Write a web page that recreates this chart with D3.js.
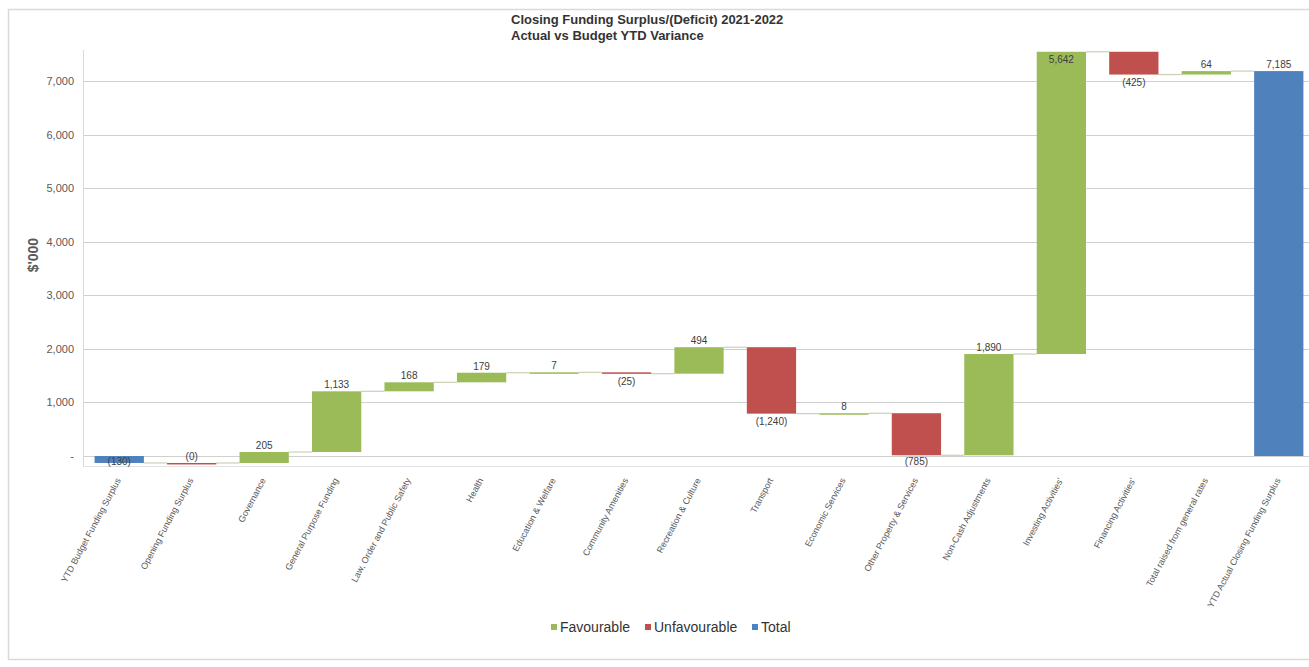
<!DOCTYPE html>
<html>
<head>
<meta charset="utf-8">
<script src="https://cdn.jsdelivr.net/npm/d3@7"></script>
<style>
  body { margin: 0; background: #fff; }
  text { font-family: "Liberation Sans", Arial, sans-serif; }
</style>
</head>
<body>
<svg id="chart"></svg>
<script>
// data
var categories = ["YTD Budget Funding Surplus", "Opening Funding Surplus", "Governance",
  "General Purpose Funding", "Law, Order and Public Safety", "Health", "Education & Welfare",
  "Community Amenities", "Recreation & Culture", "Transport", "Economic Services",
  "Other Property & Services", "Non-Cash Adjustments", "Investing Activities'",
  "Financing Activities'", "Total raised from general rates", "YTD Actual Closing Funding Surplus"];
var values = [-130, -0.4, 205, 1133, 168, 179, 7, -25, 494, -1240, 8, -785, 1890, 5642, -425, 64, 7185];
var isTotal = [true, false, false, false, false, false, false, false, false, false, false, false, false, false, false, false, true];
var yTicks = [0, 1000, 2000, 3000, 4000, 5000, 6000, 7000];
var legendNames = ["Favourable", "Unfavourable", "Total"];

var W = 1309, H = 667;
var GREEN = "#9bbb59", RED = "#c0504d", BLUE = "#4f81bd";
var TextColor = "#404040";
var plotLeft = 83, plotRight = 1315, plotTop = 50, plotBottom = 466;

var svg = d3.select("#chart").attr("width", W).attr("height", H);

// outer chart border
svg.append("rect")
  .attr("x", 8.5).attr("y", 9.5).attr("width", W).attr("height", 650)
  .attr("fill", "none").attr("stroke", "#d9d9d9").attr("stroke-width", 1.5);

// scales
var x = d3.scaleBand().domain(categories).range([plotLeft, plotRight])
  .paddingInner(0.32).paddingOuter(0.16);
var y = d3.scaleLinear().domain([0, 7000]).range([456, 81]);

// build waterfall steps
var run = 0;
var steps = categories.map(function(c, i) {
  var v = values[i], s, e;
  if (isTotal[i]) { s = 0; e = v; run = v; }
  else { s = run; e = run + v; run = e; }
  var kind = isTotal[i] ? "total" : (v >= 0 ? "fav" : "unfav");
  return { cat: c, v: v, start: s, end: e, kind: kind };
});
var colorOf = { total: BLUE, fav: GREEN, unfav: RED };

// gridlines
svg.append("g").selectAll("line").data(yTicks).join("line")
  .attr("x1", plotLeft).attr("x2", W)
  .attr("y1", function(d) { return Math.round(y(d)) + 0.5; })
  .attr("y2", function(d) { return Math.round(y(d)) + 0.5; })
  .attr("stroke", "#d0d0d0").attr("stroke-width", 1.2);

// plot frame left and bottom
svg.append("line").attr("x1", plotLeft + 0.5).attr("x2", plotLeft + 0.5)
  .attr("y1", plotTop).attr("y2", plotBottom).attr("stroke", "#d9d9d9");
svg.append("line").attr("x1", plotLeft).attr("x2", W)
  .attr("y1", plotBottom + 0.5).attr("y2", plotBottom + 0.5).attr("stroke", "#e3e3e3");

// y axis labels
svg.append("g").selectAll("text").data(yTicks).join("text")
  .attr("x", 74).attr("y", function(d) { return y(d) + 4; })
  .attr("text-anchor", "end").attr("fill", "#595959").style("font-size", "11px")
  .text(function(d) { return d === 0 ? "-" : d3.format(",")(d); });

svg.append("text")
  .attr("transform", "translate(38," + y(3750) + ") rotate(-90)")
  .attr("text-anchor", "middle").attr("fill", "#595959")
  .style("font-size", "14px").style("font-weight", "bold")
  .text("$'000");

// connectors
svg.append("g").selectAll("line").data(steps.slice(0, -1)).join("line")
  .attr("x1", function(d) { return x(d.cat) + x.bandwidth(); })
  .attr("x2", function(d, i) { return x(categories[i + 1]); })
  .attr("y1", function(d) { return y(d.end); })
  .attr("y2", function(d) { return y(d.end); })
  .attr("stroke", "#c9d2b6").attr("stroke-width", 1.2);

// bars
svg.append("g").selectAll("rect").data(steps).join("rect")
  .attr("x", function(d) { return x(d.cat); })
  .attr("width", x.bandwidth())
  .attr("y", function(d) { return y(Math.max(d.start, d.end)); })
  .attr("height", function(d) { return Math.max(1.5, Math.abs(y(d.start) - y(d.end))); })
  .attr("fill", function(d) { return colorOf[d.kind]; });

// value labels
function fmt(v) {
  var s = d3.format(",.0f")(Math.abs(v));
  return v < 0 ? "(" + s + ")" : s;
}
svg.append("g").selectAll("text").data(steps).join("text")
  .attr("x", function(d) { return x(d.cat) + x.bandwidth() / 2; })
  .attr("y", function(d) {
    var top = y(Math.max(d.start, d.end)), bot = y(Math.min(d.start, d.end));
    var yy;
    if (d.v >= 0) {
      yy = top - 3;
      if (yy - 9 < plotTop) yy = top + 11;
    } else if (bot + 11 > plotBottom - 1 && bot - top < 3) {
      // tiny bar with no room below: label goes on top
      yy = top - 3;
    } else {
      yy = Math.min(bot + 11, plotBottom - 1);
    }
    return yy;
  })
  .attr("text-anchor", "middle").attr("fill", TextColor).style("font-size", "10px")
  .text(function(d) { return fmt(d.v); });

// category labels
svg.append("g").selectAll("text").data(categories).join("text")
  .attr("transform", function(d) {
    return "translate(" + (x(d) + x.bandwidth() / 2 + 2) + "," + 480 + ") rotate(-62)";
  })
  .attr("text-anchor", "end").attr("fill", "#595959").style("font-size", "9px")
  .text(function(d) { return d; });

// title
var title = svg.append("text").attr("x", 511).attr("fill", "#333")
  .style("font-size", "13px").style("font-weight", "bold");
title.append("tspan").attr("x", 511).attr("y", 24).text("Closing Funding Surplus/(Deficit) 2021-2022");
title.append("tspan").attr("x", 511).attr("y", 40).text("Actual vs Budget YTD Variance");

// legend
var legendColors = [GREEN, RED, BLUE];
var legendX = [551, 645, 752];
var lg = svg.append("g").selectAll("g").data(legendNames).join("g")
  .attr("transform", function(d, i) { return "translate(" + legendX[i] + ",627)"; });
lg.append("rect").attr("x", 0).attr("y", -3).attr("width", 6).attr("height", 6)
  .attr("fill", function(d, i) { return legendColors[i]; });
lg.append("text").attr("x", 9).attr("y", 5).attr("fill", "#333")
  .style("font-size", "14px").text(function(d) { return d; });
</script>
</body>
</html>
